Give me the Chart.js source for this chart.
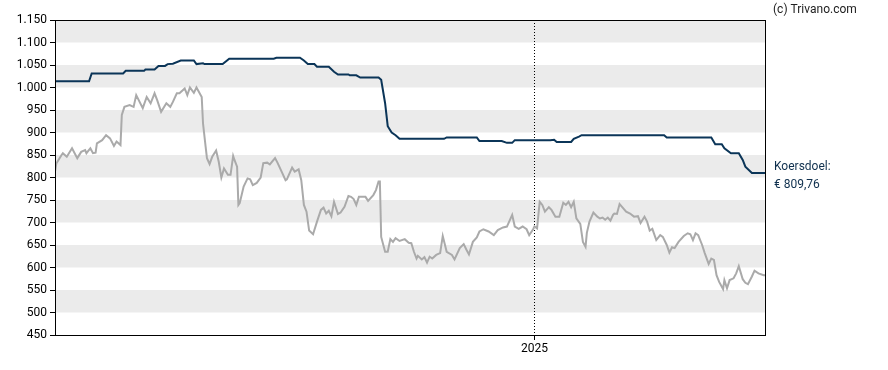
<!DOCTYPE html>
<html>
<head>
<meta charset="utf-8">
<script src="https://cdn.jsdelivr.net/npm/chart.js@4"></script>
<style>
  html, body { margin: 0; padding: 0; background: #fff; }
</style>
</head>
<body>
<canvas id="chart" width="888" height="370"></canvas>
<script>
// days since 2024-01-01 and closing price
const priceDays = [
  0,1,5,6,9,13,17,20,23,24,
  27,29,31,32,36,39,42,45,47,50,
  51,53,57,60,62,67,70,73,76,78,
  81,85,88,90,93,95,99,101,103,106,
  108,112,113,115,116,118,120,123,125,127,
  129,132,134,136,137,139,140,141,144,147,
  149,151,154,157,159,162,164,168,170,173,
  176,177,181,183,186,188,190,192,194,197,
  200,203,205,207,209,211,213,216,218,221,
  224,226,228,230,232,235,237,239,243,245,
  247,248,249,252,254,256,258,260,263,267,
  270,272,274,276,277,280,282,284,286,288,
  291,294,296,299,303,305,309,312,314,316,
  319,322,324,327,331,335,338,342,345,349,
  351,354,357,360,362,365,366,368,370,372,
  374,377,379,382,385,388,390,392,394,396,
  398,401,403,405,406,408,411,414,416,418,
  420,422,424,426,427,429,431,434,436,439,
  442,445,447,450,452,454,456,459,462,464,
  467,469,471,473,476,480,483,485,487,489,
  491,494,496,499,501,503,505,507,510,511,
  513,515,518,520,522,525,527,529,532,534,
  537,541,542
];
const prices = [
  813,831,850,854,846,865,843,857,861,854,
  865,854,855,876,883,894,887,870,880,872,
  939,957,961,957,983,954,979,965,987,972,
  946,965,957,968,987,987,998,983,1000,988,
  1000,979,920,868,843,830,846,860,835,800,
  820,806,806,848,839,824,739,743,780,798,
  796,783,788,800,832,833,829,843,832,813,
  794,796,822,813,818,794,739,724,682,674,
  702,728,733,720,726,714,746,719,722,735,
  759,757,752,739,757,757,757,748,761,772,
  791,791,668,635,635,663,657,665,659,663,
  655,654,635,620,626,618,623,611,624,620,
  628,632,670,635,628,618,643,652,640,629,
  657,667,680,685,680,672,683,689,691,717,
  691,686,691,685,672,685,691,687,746,739,
  724,734,728,713,713,744,739,746,734,746,
  709,697,657,646,677,702,722,713,709,711,
  706,711,704,717,720,719,741,731,724,720,
  713,714,699,713,702,682,686,661,672,668,
  650,633,645,643,657,670,676,674,661,676,
  672,650,632,608,620,617,583,568,552,572,
  554,572,576,587,603,574,566,563,580,593,
  587,583,583
];

// koersdoel (price target)
const targetDays = [
  0,26,28,52,54,68,69,76,79,84,
  86,90,96,106,108,113,114,128,133,167,
  169,187,190,193,198,200,209,213,216,224,
  225,230,233,247,249,252,254,257,260,263,
  297,299,322,324,341,345,349,351,378,381,
  383,394,396,400,402,465,467,501,504,509,
  511,516,522,525,527,532,542
];
const targets = [
  1014,1014,1031,1031,1037,1037,1040,1040,1048,1048,
  1052,1053,1060,1060,1052,1054,1052,1052,1064,1064,
  1066,1066,1060,1052,1052,1046,1046,1035,1029,1029,
  1027,1027,1022,1022,1017,965,914,900,894,886,
  886,889,889,881,881,877,877,883,883,884,
  879,879,886,891,894,894,889,889,874,874,
  865,854,854,839,824,810,810
];

const lastDay = 542;
const yearMarkDay = 366;
const yearLabel = '2025';
const yMin = 450, yMax = 1150, yStep = 50;
const bandStarts = [500, 600, 700, 800, 900, 1000, 1100];
const bandSize = 50;
const targetText = ['Koersdoel:', '€ 809,76'];
const creditText = '(c) Trivano.com';

const FONT = 'Roboto, "Liberation Sans", Arial, sans-serif';

function fmt(v) {
  if (v >= 1000) return Math.floor(v / 1000) + '.' + String(v % 1000).padStart(3, '0');
  return String(v);
}

const extras = {
  id: 'extras',
  beforeDraw(chart) {
    const { ctx, chartArea: a, scales: { x, y } } = chart;
    ctx.save();
    ctx.fillStyle = '#ebebeb';
    bandStarts.forEach(v => {
      const t = y.getPixelForValue(v + bandSize);
      const b = y.getPixelForValue(v);
      ctx.fillRect(a.left, t, a.right - a.left, b - t);
    });
    const xp = Math.round(x.getPixelForValue(yearMarkDay)) + 0.5;
    ctx.strokeStyle = '#000';
    ctx.lineWidth = 1;
    ctx.setLineDash([1, 2]);
    ctx.beginPath();
    ctx.moveTo(xp, a.top);
    ctx.lineTo(xp, a.bottom);
    ctx.stroke();
    ctx.restore();
  },
  afterDraw(chart) {
    const { ctx, chartArea: a, scales: { y } } = chart;
    ctx.save();
    ctx.strokeStyle = '#000';
    ctx.lineWidth = 1;
    ctx.strokeRect(Math.round(a.left) + 0.5, Math.round(a.top) + 0.5,
      Math.round(a.right - a.left), Math.round(a.bottom - a.top));
    ctx.font = '12px ' + FONT;
    ctx.textBaseline = 'alphabetic';
    ctx.fillStyle = '#222';
    ctx.fillText(creditText, a.right + 8, 13);
    const ty = y.getPixelForValue(targets[targets.length - 1]);
    ctx.fillStyle = '#0e2f4d';
    ctx.fillText(targetText[0], a.right + 9, ty - 3);
    ctx.fillText(targetText[1], a.right + 9, ty + 15);
    ctx.restore();
  }
};

new Chart(document.getElementById('chart'), {
  type: 'line',
  data: {
    datasets: [
      {
        data: priceDays.map((d, i) => ({ x: d, y: prices[i] })),
        borderColor: '#aaaaaa',
        borderWidth: 2,
        pointRadius: 0,
        tension: 0
      },
      {
        data: targetDays.map((d, i) => ({ x: d, y: targets[i] })),
        borderColor: '#0b3558',
        borderWidth: 2,
        pointRadius: 0,
        tension: 0
      }
    ]
  },
  options: {
    responsive: false,
    animation: false,
    devicePixelRatio: 1,
    layout: { padding: { top: 20, right: 123, left: 0, bottom: 0 } },
    plugins: { legend: { display: false }, tooltip: { enabled: false } },
    scales: {
      x: {
        type: 'linear',
        min: 0,
        max: lastDay,
        afterFit: s => { s.height = 35; },
        afterBuildTicks: s => { s.ticks = [{ value: yearMarkDay }]; },
        ticks: {
          callback: () => yearLabel,
          color: '#000',
          font: { family: FONT, size: 12 },
          padding: 2,
          maxRotation: 0
        },
        grid: { drawOnChartArea: false, color: '#000', tickLength: 5 },
        border: { color: '#000' }
      },
      y: {
        min: yMin,
        max: yMax,
        afterFit: s => { s.width = 55; },
        ticks: {
          stepSize: yStep,
          callback: v => fmt(v),
          color: '#000',
          font: { family: FONT, size: 12 },
          padding: 3
        },
        grid: { drawOnChartArea: false, color: '#000', tickLength: 5 },
        border: { color: '#000' }
      }
    }
  },
  plugins: [extras]
});
</script>
</body>
</html>
